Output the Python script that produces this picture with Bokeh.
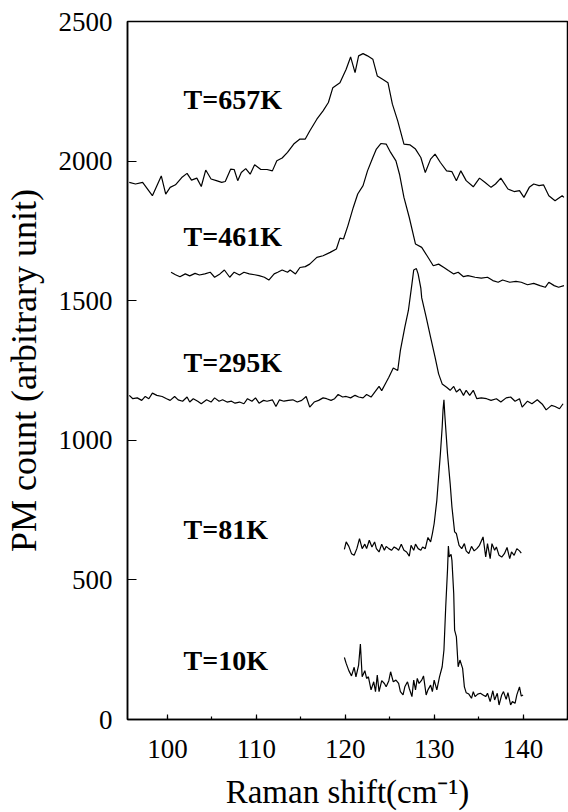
from bokeh.plotting import figure
from bokeh.models import Range1d, FixedTicker
from bokeh.core.properties import value
from bokeh.embed import file_html
from bokeh.resources import INLINE

# ---------------- data ----------------
x_657 = [95.7, 96.4, 97.2, 98.3, 99.3, 99.8, 100.3, 100.9, 101.6, 102.2, 102.7, 103.3, 103.8, 104.3,
         104.9, 105.5, 106.1, 106.5, 107.1, 107.5, 107.9, 108.3, 108.8, 109.3, 109.8, 110.5, 111.2,
         111.8, 112.3, 112.9, 113.5, 114.2, 114.9, 115.5, 116.0, 116.8, 117.5, 118.1, 118.6, 119.4,
         120.1, 120.6, 121.1, 121.5, 122.0, 122.5, 123.1, 123.6, 124.2, 124.8, 125.3, 125.9, 126.6,
         127.3, 127.9, 128.5, 129.0, 129.6, 130.1, 130.7, 131.4, 132.0, 132.5, 133.0, 133.6, 134.4,
         135.1, 135.7, 136.4, 136.9, 137.5, 138.3, 139.0, 139.6, 140.1, 140.7, 141.2, 141.8, 142.3,
         142.9, 143.6, 144.4, 144.6]
y_657 = [1924, 1918, 1924, 1876, 1947, 1882, 1906, 1915, 1941, 1956, 1932, 1939, 1909, 1968,
         1936, 1930, 1924, 1927, 1971, 1970, 1930, 1959, 1973, 1953, 1987, 1970, 1970,
         1965, 2001, 2011, 2031, 2061, 2079, 2079, 2108, 2150, 2180, 2210, 2263, 2281,
         2329, 2373, 2317, 2377, 2385, 2377, 2365, 2305, 2293, 2281, 2204, 2144, 2061,
         2058, 2043, 2013, 1959, 2007, 2025, 1995, 1965, 1962, 1930, 1965, 1930, 1908,
         1939, 1924, 1906, 1918, 1939, 1900, 1891, 1894, 1870, 1906, 1918, 1912, 1915,
         1876, 1858, 1876, 1870]

x_461 = [100.4, 100.9, 101.4, 102.0, 102.5, 103.1, 103.6, 104.2, 104.8, 105.3, 105.9, 106.4, 107.0,
         107.5, 108.1, 108.6, 109.2, 109.8, 110.3, 110.9, 111.4, 112.0, 112.4, 112.9, 113.5, 113.8,
         114.4, 114.9, 115.5, 116.0, 116.8, 117.5, 118.3, 119.0, 119.4, 119.8, 120.3, 120.9, 121.4,
         122.0, 122.5, 123.1, 123.5, 124.0, 124.6, 125.1, 125.7, 126.1, 126.6, 127.2, 127.9, 128.6,
         129.2, 129.9, 130.5, 131.1, 131.6, 132.2, 132.7, 133.3, 133.8, 134.6, 135.3, 136.0, 136.6,
         137.2, 137.7, 138.5, 139.2, 139.8, 140.5, 141.2, 141.9, 142.5, 142.9, 143.5, 144.0, 144.6]
y_461 = [1602, 1593, 1586, 1596, 1589, 1598, 1592, 1596, 1602, 1584, 1596, 1610, 1584,
         1602, 1592, 1602, 1596, 1593, 1590, 1584, 1574, 1596, 1602, 1610, 1602, 1610,
         1596, 1619, 1622, 1631, 1655, 1661, 1673, 1685, 1724, 1721, 1769, 1834, 1882,
         1912, 1965, 2013, 2043, 2063, 2061, 2031, 2001, 1953, 1870, 1798, 1703, 1691,
         1661, 1625, 1631, 1619, 1608, 1596, 1602, 1586, 1590, 1584, 1581, 1584, 1572,
         1566, 1574, 1566, 1569, 1566, 1557, 1562, 1554, 1548, 1566, 1554, 1548, 1554]

x_295 = [95.7, 96.1, 96.6, 97.1, 97.5, 97.9, 98.3, 98.8, 99.4, 99.9, 100.3, 100.8, 101.2, 101.7,
         102.2, 102.5, 102.9, 103.4, 103.8, 104.4, 104.9, 105.3, 105.8, 106.2, 106.7, 107.2, 107.6,
         108.1, 108.6, 109.0, 109.5, 109.9, 110.3, 110.8, 111.2, 111.8, 112.2, 112.6, 113.1, 113.6,
         114.1, 114.6, 115.1, 115.6, 116.0, 116.5, 117.0, 117.5, 117.9, 118.4, 118.8, 119.2, 119.7,
         120.1, 120.6, 121.1, 121.5, 122.0, 122.4, 122.9, 123.4, 123.8, 124.1, 124.6, 124.9, 125.4,
         125.9, 126.2, 126.7, 127.1, 127.5, 127.7, 128.0, 128.2, 128.5, 128.6, 129.1, 129.6, 130.1,
         130.5, 130.9, 131.4, 131.8, 132.2, 132.5, 132.9, 133.3, 133.6, 134.0, 134.4, 134.8, 135.3,
         135.9, 136.4, 137.0, 137.5, 138.1, 138.6, 139.1, 139.6, 139.9, 140.5, 141.0, 141.6, 142.2,
         142.6, 143.2, 143.6, 144.1, 144.5]
y_295 = [1161, 1149, 1152, 1143, 1157, 1149, 1169, 1161, 1157, 1149, 1143, 1157, 1145, 1140,
         1155, 1137, 1149, 1140, 1131, 1145, 1137, 1152, 1140, 1145, 1137, 1140, 1133,
         1137, 1131, 1149, 1140, 1152, 1133, 1143, 1140, 1145, 1121, 1145, 1140, 1143,
         1145, 1137, 1143, 1157, 1119, 1137, 1143, 1152, 1149, 1143, 1149, 1164, 1155,
         1157, 1152, 1161, 1155, 1152, 1164, 1155, 1176, 1193, 1178, 1208, 1226, 1259,
         1250, 1322, 1405, 1465, 1560, 1610, 1615, 1595, 1545, 1510, 1441, 1369, 1298,
         1238, 1202, 1190, 1179, 1193, 1173, 1184, 1161, 1179, 1161, 1179, 1149, 1152,
         1149, 1143, 1149, 1137, 1152, 1155, 1140, 1149, 1119, 1140, 1131, 1145, 1128,
         1109, 1125, 1121, 1113, 1131]

x_81 = [119.9, 120.1, 120.4, 120.7, 121.0, 121.3, 121.6, 121.9, 122.2, 122.4, 122.7, 123.0, 123.3,
        123.5, 123.8, 124.1, 124.4, 124.6, 124.9, 125.2, 125.5, 125.8, 126.0, 126.3, 126.6, 126.9,
        127.2, 127.4, 127.7, 127.9, 128.2, 128.5, 128.7, 129.0, 129.3, 129.6, 129.8, 130.0, 130.3,
        130.5, 130.7, 130.9, 131.0, 131.1, 131.2, 131.5, 131.8, 132.0, 132.3, 132.5, 132.8, 133.1,
        133.4, 133.6, 133.9, 134.2, 134.5, 134.8, 135.1, 135.5, 135.8, 136.0, 136.3, 136.5, 136.8,
        137.0, 137.3, 137.6, 137.9, 138.2, 138.5, 138.7, 139.0, 139.3, 139.6, 139.8]
y_81 = [609, 636, 620, 594, 588, 612, 648, 612, 628, 612, 642, 618, 636,
        612, 600, 628, 606, 620, 612, 606, 618, 612, 606, 628, 606, 600,
        585, 624, 606, 628, 612, 606, 618, 612, 652, 636, 666, 702, 785,
        869, 952, 1047, 1110, 1145, 1090, 952, 845, 761, 672, 666, 624, 612,
        630, 604, 594, 620, 604, 612, 624, 654, 582, 630, 576, 630, 606,
        618, 588, 582, 594, 616, 576, 600, 588, 612, 604, 596]

x_10 = [119.9, 120.1, 120.4, 120.7, 121.0, 121.2, 121.5, 121.7, 121.9, 122.2, 122.4, 122.6, 122.9,
        123.2, 123.4, 123.6, 123.8, 124.1, 124.4, 124.6, 124.9, 125.1, 125.4, 125.7, 126.0, 126.2,
        126.5, 126.7, 127.0, 127.2, 127.5, 127.7, 127.9, 128.1, 128.3, 128.6, 128.8, 129.1, 129.3,
        129.6, 129.8, 130.0, 130.3, 130.6, 130.9, 131.1, 131.3, 131.5, 131.6, 131.7, 131.9, 132.0,
        132.2, 132.3, 132.5, 132.7, 132.9, 133.2, 133.4, 133.6, 133.9, 134.2, 134.4, 134.6, 134.9,
        135.2, 135.5, 135.8, 136.0, 136.3, 136.6, 136.8, 137.1, 137.3, 137.6, 137.8, 138.1, 138.3,
        138.6, 138.8, 139.1, 139.3, 139.6, 139.8, 140.0]
y_10 = [222, 201, 175, 156, 187, 153, 195, 270, 153, 175, 147, 153, 106,
        135, 100, 159, 100, 139, 129, 117, 139, 171, 135, 141, 129, 100,
        88, 117, 135, 111, 82, 141, 106, 147, 129, 141, 156, 88, 106,
        123, 100, 141, 106, 153, 189, 249, 404, 535, 621, 582, 592, 570,
        451, 320, 296, 189, 213, 183, 117, 96, 91, 76, 100, 82, 91,
        94, 88, 82, 94, 64, 103, 70, 94, 52, 88, 100, 72, 96,
        52, 64, 58, 88, 117, 84, 88]

series_x = [x_657, x_461, x_295, x_81, x_10]
series_y = [y_657, y_461, y_295, y_81, y_10]

label_text = ["T=657K", "T=461K", "T=295K", "T=81K", "T=10K"]
label_x = [101.8, 101.8, 101.8, 101.8, 101.8]
label_y = [2220, 1731, 1278, 682, 211]

x_title = "Raman shift(cm\u207b\u00b9)"
y_title = "PM count (arbitrary unit)"

x_ticks = [100, 110, 120, 130, 140]
x_minor = [100, 105, 110, 115, 120, 125, 130, 135, 140, 145]
y_ticks = [0, 500, 1000, 1500, 2000, 2500]

# ---------------- figure ----------------
SERIF = "Liberation Serif"

p = figure(width=568, height=812, output_backend="svg", toolbar_location=None,
           x_range=Range1d(95.5, 145), y_range=Range1d(0, 2500),
           min_border_left=122, min_border_right=1, min_border_top=21, min_border_bottom=92)

p.xgrid.visible = False
p.ygrid.visible = False
p.background_fill_color = "white"
p.border_fill_color = "white"
p.outline_line_color = "black"
p.outline_line_width = 1.5

for xs, ys in zip(series_x, series_y):
    p.line(xs, ys, line_color="black", line_width=1.2)

p.text(x=label_x, y=label_y, text=label_text,
       text_font=value('"Liberation Serif"'), text_font_style="bold", text_font_size="28px",
       text_align="left", text_baseline="alphabetic", text_color="black")

xa = p.xaxis[0]
xa.ticker = FixedTicker(ticks=x_ticks, minor_ticks=x_minor)
xa.axis_label = x_title
xa.axis_label_text_font = SERIF
xa.axis_label_text_font_style = "normal"
xa.axis_label_text_font_size = "33px"
xa.axis_label_text_color = "black"
xa.axis_label_standoff = 13
xa.major_label_text_font = SERIF
xa.major_label_text_font_size = "27px"
xa.major_label_text_color = "black"
xa.major_label_standoff = 20
xa.major_tick_in = 5
xa.major_tick_out = 0
xa.minor_tick_in = 3
xa.minor_tick_out = 0
xa.axis_line_width = 1.5
xa.axis_line_color = "black"
xa.major_tick_line_width = 1.2
xa.minor_tick_line_width = 1.2

ya = p.yaxis[0]
ya.ticker = FixedTicker(ticks=y_ticks, minor_ticks=[])
ya.axis_label = y_title
ya.axis_label_text_font = SERIF
ya.axis_label_text_font_style = "normal"
ya.axis_label_text_font_size = "36px"
ya.axis_label_text_color = "black"
ya.axis_label_standoff = 12
ya.major_label_text_font = SERIF
ya.major_label_text_font_size = "27px"
ya.major_label_text_color = "black"
ya.major_label_standoff = 15
ya.major_tick_in = 9
ya.major_tick_out = 0
ya.minor_tick_in = 0
ya.minor_tick_out = 0
ya.axis_line_width = 1.5
ya.axis_line_color = "black"
ya.major_tick_line_width = 1.2

open("out.html", "w").write(file_html(p, INLINE))
